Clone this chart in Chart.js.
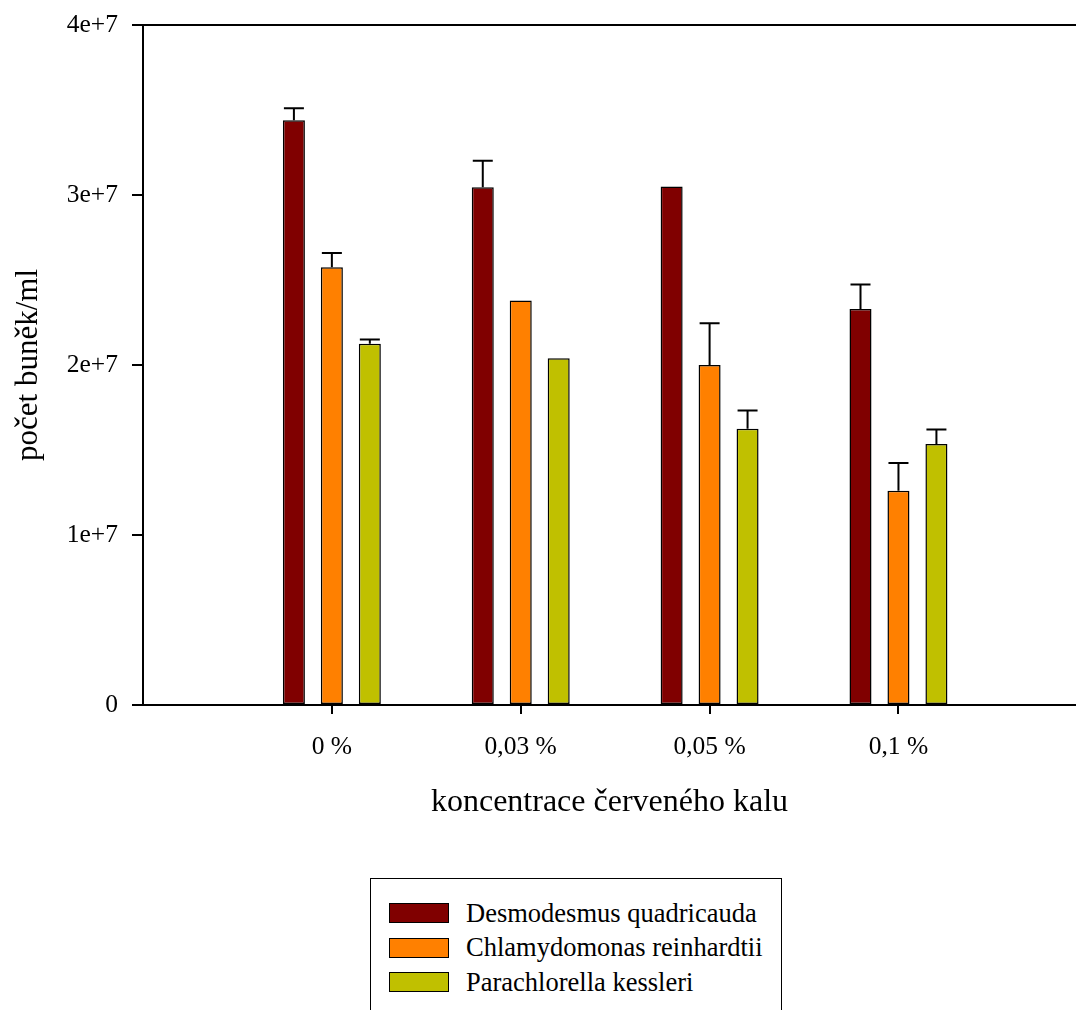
<!DOCTYPE html>
<html>
<head>
<meta charset="utf-8">
<script src="https://cdn.jsdelivr.net/npm/chart.js@4.4.0/dist/chart.umd.min.js"></script>
<style>
  html, body { margin: 0; padding: 0; background: #fff; overflow: hidden; }
  #wrap { position: relative; width: 1076px; height: 1010px; }
  #chartBox { position: absolute; left: 0; top: 0; width: 1076px; height: 840px; }
  #legend {
    position: absolute; left: 370px; top: 878px; width: 412px; height: 150px;
    border: 1px solid #000; box-sizing: border-box;
    font-family: "Liberation Serif", "Times New Roman", serif; font-size: 26.5px; color: #000;
  }
  .row { position: absolute; left: 18px; height: 20px; display: flex; align-items: center; }
  .sw { width: 58px; height: 18px; border: 1px solid #000; margin-right: 17px; }
</style>
</head>
<body>
<div id="wrap">
  <div id="chartBox"><canvas id="c"></canvas></div>
  <div id="legend"></div>
</div>
<script>
// categories on the x axis (placed at 1..4)
const categories = ['0 %', '0,03 %', '0,05 %', '0,1 %'];
const seriesNames = ['Desmodesmus quadricauda', 'Chlamydomonas reinhardtii', 'Parachlorella kessleri'];
const seriesColors = ['#800000', '#ff8000', '#c0c000'];

// mean cell counts per ml
const desmodesmus = [3.44e7, 3.045e7, 3.05e7, 2.33e7];
const chlamydomonas = [2.575e7, 2.38e7, 2.0e7, 1.26e7];
const parachlorella = [2.125e7, 2.04e7, 1.625e7, 1.535e7];

// upper error bars (0 = none drawn)
const desmodesmusErr = [0.07e7, 0.157e7, 0, 0.144e7];
const chlamydomonasErr = [0.084e7, 0, 0.245e7, 0.164e7];
const parachlorellaErr = [0.025e7, 0, 0.108e7, 0.085e7];

const yTicks = [0, 1e7, 2e7, 3e7, 4e7];
const yTickLabels = ['0', '1e+7', '2e+7', '3e+7', '4e+7'];

const seriesValues = [desmodesmus, chlamydomonas, parachlorella];
const seriesErrors = [desmodesmusErr, chlamydomonasErr, parachlorellaErr];

const serif = '"Liberation Serif", "Times New Roman", serif';

const datasets = seriesValues.map((vals, i) => ({
    label: seriesNames[i],
    data: vals.map((v, j) => ({ x: j + 1, y: v })),
    backgroundColor: seriesColors[i],
    borderColor: '#000',
    borderWidth: 1.5,
    borderSkipped: false,
    errors: seriesErrors[i],
    categoryPercentage: 0.603,
    barPercentage: 0.58,
}));

// error bars + top frame line
const errorBars = {
    id: 'errorBars',
    afterDatasetsDraw(chart) {
        const ctx = chart.ctx;
        const yScale = chart.scales.y;
        ctx.save();
        ctx.strokeStyle = '#000';
        ctx.lineWidth = 2;
        chart.data.datasets.forEach((ds, i) => {
            const meta = chart.getDatasetMeta(i);
            meta.data.forEach((bar, j) => {
                const err = ds.errors[j];
                if (!err) return;
                const yTop = yScale.getPixelForValue(ds.data[j].y + err);
                ctx.beginPath();
                ctx.moveTo(bar.x, bar.y);
                ctx.lineTo(bar.x, yTop);
                ctx.moveTo(bar.x - 10, yTop);
                ctx.lineTo(bar.x + 10, yTop);
                ctx.stroke();
            });
        });
        const a = chart.chartArea;
        ctx.beginPath();
        ctx.moveTo(a.left - 11, a.top);
        ctx.lineTo(a.right, a.top);
        ctx.stroke();
        ctx.restore();
    }
};

new Chart(document.getElementById('c'), {
    type: 'bar',
    data: { datasets: datasets },
    options: {
        responsive: true,
        maintainAspectRatio: false,
        animation: false,
        layout: { padding: { left: 0, right: 0, top: 25, bottom: 0 } },
        plugins: { legend: { display: false }, tooltip: { enabled: false } },
        scales: {
            x: {
                type: 'linear',
                min: 0,
                max: 4.94,
                offset: false,
                afterFit: s => { s.height = 135; s.paddingLeft = 0; s.paddingRight = 0; },
                afterBuildTicks: s => { s.ticks = categories.map((c, i) => ({ value: i + 1 })); },
                border: { display: true, color: '#000', width: 2 },
                grid: { offset: false, drawOnChartArea: false, drawTicks: true, tickLength: 9, color: '#000', lineWidth: 2 },
                ticks: {
                    color: '#000',
                    font: { family: serif, size: 25.5 },
                    padding: 18,
                    maxRotation: 0,
                    autoSkip: false,
                    callback: v => categories[v - 1] || ''
                },
                title: {
                    display: true,
                    text: 'koncentrace červeného kalu',
                    color: '#000',
                    font: { family: serif, size: 32 },
                    padding: { top: 4, bottom: 18 }
                }
            },
            y: {
                min: 0,
                max: 4e7,
                afterFit: s => { s.width = 143; s.paddingTop = 0; s.paddingBottom = 0; },
                afterBuildTicks: s => { s.ticks = yTicks.map(v => ({ value: v })); },
                border: { display: true, color: '#000', width: 2 },
                grid: { drawOnChartArea: false, drawTicks: true, tickLength: 11, color: '#000', lineWidth: 2 },
                ticks: {
                    color: '#000',
                    font: { family: serif, size: 25.5 },
                    padding: 14,
                    callback: v => yTickLabels[yTicks.indexOf(v)]
                },
                title: {
                    display: true,
                    text: 'počet buněk/ml',
                    color: '#000',
                    font: { family: serif, size: 31 },
                    padding: { top: 10 }
                }
            }
        }
    },
    plugins: [errorBars]
});

// legend box under the chart
const legend = document.getElementById('legend');
seriesNames.forEach((name, i) => {
    const row = document.createElement('div');
    row.className = 'row';
    row.style.top = (24 + i * 34.5) + 'px';
    const sw = document.createElement('div');
    sw.className = 'sw';
    sw.style.background = seriesColors[i];
    const label = document.createElement('span');
    label.textContent = name;
    row.appendChild(sw);
    row.appendChild(label);
    legend.appendChild(row);
});
</script>
</body>
</html>
